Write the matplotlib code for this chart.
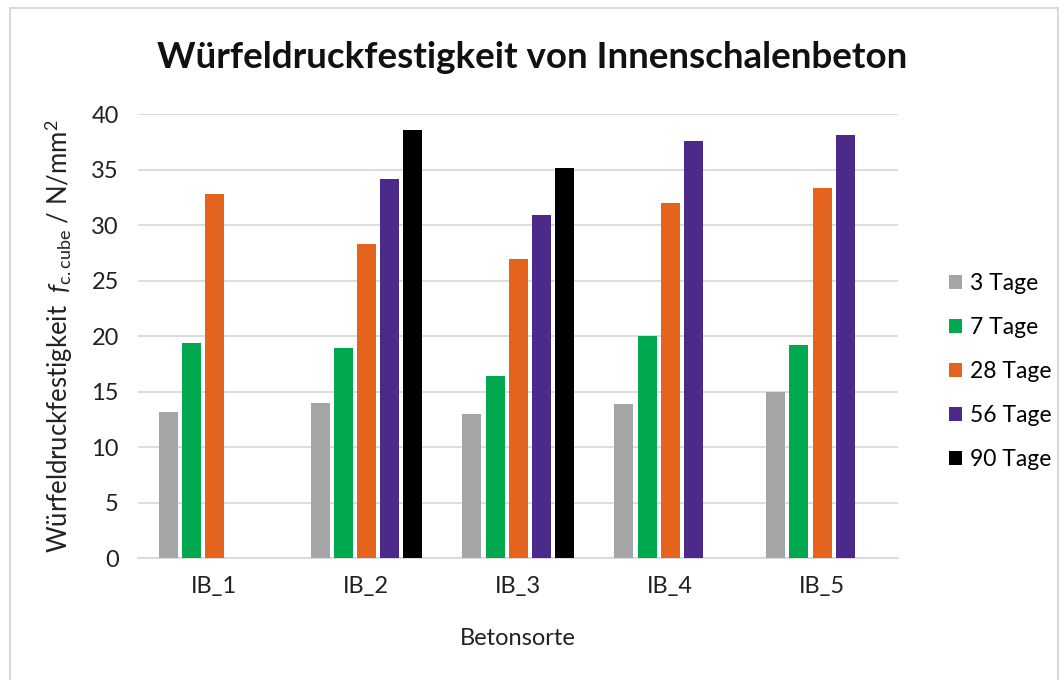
import numpy as np
import matplotlib
matplotlib.use('Agg')
import matplotlib.pyplot as plt
from matplotlib.patches import Rectangle

plt.rcParams['font.family'] = ['Lato', 'DejaVu Sans']
plt.rcParams['mathtext.fontset'] = 'custom'
plt.rcParams['mathtext.rm'] = 'Lato'
plt.rcParams['mathtext.it'] = 'Lato:italic'

sorten = ['IB_1', 'IB_2', 'IB_3', 'IB_4', 'IB_5']
serien = ['3 Tage', '7 Tage', '28 Tage', '56 Tage', '90 Tage']
tage_3 = [13.2, 14.0, 13.0, 13.9, 15.0]
tage_7 = [19.4, 18.9, 16.4, 20.0, 19.2]
tage_28 = [32.8, 28.3, 27.0, 32.0, 33.4]
tage_56 = [np.nan, 34.2, 30.9, 37.6, 38.1]
tage_90 = [np.nan, 38.6, 35.2, np.nan, np.nan]
farben = ['#A5A5A5', '#00A850', '#E4641E', '#4B2A8C', '#000000']

werte = [tage_3, tage_7, tage_28, tage_56, tage_90]

fig = plt.figure(figsize=(10.64, 6.8), dpi=100)
ax = fig.add_axes([0.130, 0.179, 0.714, 0.653])

x = np.arange(len(sorten))
slot = 0.152
breite = 0.125
for i, (name, w, c) in enumerate(zip(serien, werte, farben)):
    ax.bar(x + (i - 2) * slot, w, width=breite, color=c, label=name, zorder=3)

ax.set_xlim(-0.5, len(sorten) - 0.5)
ax.set_ylim(0, 40)
ax.set_yticks(range(0, 41, 5))
ax.set_xticks(x)
ax.set_xticklabels(sorten)
ax.tick_params(axis='both', length=0, labelsize=17, colors='#222222')
ax.tick_params(axis='x', pad=13)
ax.tick_params(axis='y', pad=14)
ax.grid(axis='y', color='#D9D9D9', linewidth=1.3, zorder=0)
for s in ['top', 'right', 'left']:
    ax.spines[s].set_visible(False)
ax.spines['bottom'].set_color('#D9D9D9')
ax.spines['bottom'].set_linewidth(1.3)

ax.set_xlabel('Betonsorte', fontsize=17, labelpad=22, color='#222222')
ax.set_ylabel(r'Würfeldruckfestigkeit  $f_{\mathrm{c.cube}}$ / N/mm$^2$', fontsize=18.5,
              labelpad=12, color='#222222')

fig.text(0.5, 0.915, 'Würfeldruckfestigkeit von Innenschalenbeton', ha='center', va='center',
         fontsize=26.5, fontweight='bold', color='#111111')

ax.legend(loc='center left', bbox_to_anchor=(1.04, 0.42), frameon=False, fontsize=16.5,
          handlelength=0.55, handleheight=0.55, handletextpad=0.35, labelspacing=1.0)

fig.patches.append(Rectangle((0.009, -0.01), 0.985, 0.998, transform=fig.transFigure,
                             fill=False, edgecolor='#D9D9D9', linewidth=1.5))

fig.savefig('out.png', dpi=100)
